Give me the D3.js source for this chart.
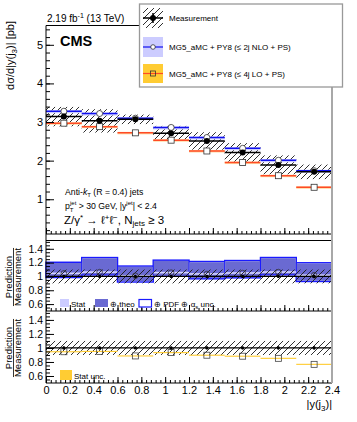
<!DOCTYPE html>
<html>
<head>
<meta charset="utf-8">
<script src="https://cdn.jsdelivr.net/npm/d3@7"></script>
<style>
  body { margin: 0; background: #fff; }
  svg { display: block; font-family: "Liberation Sans", Arial, sans-serif; }
</style>
</head>
<body>
<div class="chart"></div>
<script>
// bins of |y(j3)|
var binEdges = [0, 0.3, 0.6, 0.9, 1.2, 1.5, 1.8, 2.1, 2.4];
// measurement [pb], stat error and total relative uncertainty (hatched)
var measured = [3.14, 3.03, 3.07, 2.71, 2.51, 2.21, 1.89, 1.71];
var measStat = [0.06, 0.06, 0.05, 0.05, 0.05, 0.04, 0.04, 0.04];
var measUncMain = [0.08, 0.10, 0.04, 0.07, 0.09, 0.11, 0.13, 0.11];
var measUncRatio = [0.10, 0.10, 0.10, 0.10, 0.10, 0.10, 0.10, 0.10];
// predictions [pb]
var nloPred = [3.28, 3.22, 3.10, 2.86, 2.60, 2.32, 2.01, 1.74];
var loPred = [2.97, 2.88, 2.72, 2.53, 2.25, 1.95, 1.61, 1.31];
// NLO / measurement uncertainty boxes (theo and theo+PDF+alpha_s)
var nloTheoLo = [0.95, 0.97, 0.92, 0.96, 0.94, 0.94, 0.97, 0.92];
var nloTheoHi = [1.15, 1.20, 1.13, 1.17, 1.17, 1.17, 1.20, 1.17];
var nloTotLo = [0.94, 0.96, 0.91, 0.95, 0.93, 0.93, 0.96, 0.91];
var nloTotHi = [1.16, 1.21, 1.14, 1.18, 1.18, 1.18, 1.21, 1.18];
// tick labels
var xTicks = [0, 0.2, 0.4, 0.6, 0.8, 1, 1.2, 1.4, 1.6, 1.8, 2, 2.2, 2.4];
var mainYTicks = [1, 2, 3, 4, 5];
var ratioYTicks = [0.6, 0.8, 1, 1.2, 1.4];

var bins = measured.map(function (m, i) {
  return {
    lo: binEdges[i], hi: binEdges[i + 1], mid: (binEdges[i] + binEdges[i + 1]) / 2,
    meas: m, stat: measStat[i], uMain: measUncMain[i], uRatio: measUncRatio[i],
    nlo: nloPred[i], lo_: loPred[i],
    tLo: nloTheoLo[i], tHi: nloTheoHi[i], pLo: nloTotLo[i], pHi: nloTotHi[i]
  };
});

var W = 357, H = 422;
var svg = d3.select(".chart").append("svg").attr("width", W).attr("height", H);

// hatch pattern for measurement uncertainty
var defs = svg.append("defs");
var pat = defs.append("pattern").attr("id", "hatch").attr("patternUnits", "userSpaceOnUse")
  .attr("width", 6).attr("height", 6);
pat.append("path").attr("d", "M0,6 L6,0 M-1.5,1.5 L1.5,-1.5 M4.5,7.5 L7.5,4.5")
  .attr("stroke", "#1a1a1a").attr("stroke-width", 0.9);

var x = d3.scaleLinear().domain([0, 2.4]).range([46, 332]);
var yMain = d3.scaleLinear().domain([0.1, 5.5]).range([234, 25.5]);
var yR1 = d3.scaleLinear().domain([0.5, 1.52]).range([311, 240.5]);
var yR2 = d3.scaleLinear().domain([0.5, 1.52]).range([383, 311.5]);

var fmt = function (d) { return String(+d.toFixed(1)); };

// ---------- main panel ----------
var main = svg.append("g");

main.selectAll(".hatchM").data(bins).enter().append("rect")
  .attr("x", d => x(d.lo)).attr("width", d => x(d.hi) - x(d.lo))
  .attr("y", d => yMain(d.meas * (1 + d.uMain)))
  .attr("height", d => yMain(d.meas * (1 - d.uMain)) - yMain(d.meas * (1 + d.uMain)))
  .attr("fill", "url(#hatch)");

// LO (orange) with light band
main.selectAll(".loBand").data(bins).enter().append("rect")
  .attr("x", d => x(d.lo)).attr("width", d => x(d.hi) - x(d.lo))
  .attr("y", d => yMain(d.lo_) - 1).attr("height", 2.5)
  .attr("fill", "#ffd9a0");
main.selectAll(".loLine").data(bins).enter().append("line")
  .attr("x1", d => x(d.lo)).attr("x2", d => x(d.hi))
  .attr("y1", d => yMain(d.lo_)).attr("y2", d => yMain(d.lo_))
  .attr("stroke", "#ff4a26").attr("stroke-width", 1.5);

// NLO (blue) with lavender band
main.selectAll(".nloBand").data(bins).enter().append("rect")
  .attr("x", d => x(d.lo)).attr("width", d => x(d.hi) - x(d.lo))
  .attr("y", d => yMain(d.nlo) - 1).attr("height", 3)
  .attr("fill", "#ccccff");
main.selectAll(".nloLine").data(bins).enter().append("line")
  .attr("x1", d => x(d.lo)).attr("x2", d => x(d.hi))
  .attr("y1", d => yMain(d.nlo)).attr("y2", d => yMain(d.nlo))
  .attr("stroke", "#1010ee").attr("stroke-width", 1.5);

// measurement line
main.selectAll(".measLine").data(bins).enter().append("line")
  .attr("x1", d => x(d.lo)).attr("x2", d => x(d.hi))
  .attr("y1", d => yMain(d.meas)).attr("y2", d => yMain(d.meas))
  .attr("stroke", "#000").attr("stroke-width", 1.5);

// markers
main.selectAll(".loMk").data(bins).enter().append("rect")
  .attr("x", d => x(d.mid) - 3).attr("y", d => yMain(d.lo_) - 3)
  .attr("width", 6).attr("height", 6)
  .attr("fill", "#fff").attr("stroke", "#333").attr("stroke-width", 0.8);
main.selectAll(".nloMk").data(bins).enter().append("circle")
  .attr("cx", d => x(d.mid)).attr("cy", d => yMain(d.nlo)).attr("r", 3)
  .attr("fill", "#fff").attr("stroke", "#333").attr("stroke-width", 0.8);
main.selectAll(".measErr").data(bins).enter().append("line")
  .attr("x1", d => x(d.mid)).attr("x2", d => x(d.mid))
  .attr("y1", d => yMain(d.meas + d.stat)).attr("y2", d => yMain(d.meas - d.stat))
  .attr("stroke", "#000").attr("stroke-width", 1.5);
main.selectAll(".measMk").data(bins).enter().append("circle")
  .attr("cx", d => x(d.mid)).attr("cy", d => yMain(d.meas)).attr("r", 3)
  .attr("fill", "#000");

// ---------- ratio panel 1 : NLO / measurement ----------
var r1 = svg.append("g");
r1.selectAll(".totBox").data(bins).enter().append("rect")
  .attr("x", d => x(d.lo)).attr("width", d => x(d.hi) - x(d.lo))
  .attr("y", d => yR1(d.nlo / d.meas + d.pHi - 1))
  .attr("height", d => yR1(d.nlo / d.meas + d.pLo - 1) - yR1(d.nlo / d.meas + d.pHi - 1))
  .attr("fill", "#fff").attr("stroke", "#1a1aff").attr("stroke-width", 1.5);
r1.selectAll(".theoBox").data(bins).enter().append("rect")
  .attr("x", d => x(d.lo) + 0.5).attr("width", d => x(d.hi) - x(d.lo) - 1)
  .attr("y", d => yR1(d.nlo / d.meas + d.tHi - 1))
  .attr("height", d => yR1(d.nlo / d.meas + d.tLo - 1) - yR1(d.nlo / d.meas + d.tHi - 1))
  .attr("fill", "#6a6ad2");
r1.selectAll(".statBand").data(bins).enter().append("rect")
  .attr("x", d => x(d.lo)).attr("width", d => x(d.hi) - x(d.lo))
  .attr("y", d => yR1(d.nlo / d.meas + 0.012))
  .attr("height", d => yR1(d.nlo / d.meas - 0.012) - yR1(d.nlo / d.meas + 0.012))
  .attr("fill", "#d4d4ff");
r1.selectAll(".hatchR1").data(bins).enter().append("rect")
  .attr("x", d => x(d.lo)).attr("width", d => x(d.hi) - x(d.lo))
  .attr("y", d => yR1(1 + d.uRatio)).attr("height", d => yR1(1 - d.uRatio) - yR1(1 + d.uRatio))
  .attr("fill", "url(#hatch)");
r1.append("line").attr("x1", x(0)).attr("x2", x(2.4)).attr("y1", yR1(1)).attr("y2", yR1(1))
  .attr("stroke", "#000").attr("stroke-width", 1.2);
r1.selectAll(".mkR1").data(bins).enter().append("circle")
  .attr("cx", d => x(d.mid)).attr("cy", d => yR1(d.nlo / d.meas)).attr("r", 2.8)
  .attr("fill", "none").attr("stroke", "#333").attr("stroke-width", 0.8);

// ---------- ratio panel 2 : LO / measurement ----------
var r2 = svg.append("g");
r2.selectAll(".hatchR2").data(bins).enter().append("rect")
  .attr("x", d => x(d.lo)).attr("width", d => x(d.hi) - x(d.lo))
  .attr("y", d => yR2(1 + d.uRatio)).attr("height", d => yR2(1 - d.uRatio) - yR2(1 + d.uRatio))
  .attr("fill", "url(#hatch)");
r2.selectAll(".loStat").data(bins).enter().append("rect")
  .attr("x", d => x(d.lo)).attr("width", d => x(d.hi) - x(d.lo))
  .attr("y", d => yR2(d.lo_ / d.meas + 0.008))
  .attr("height", d => yR2(d.lo_ / d.meas - 0.008) - yR2(d.lo_ / d.meas + 0.008))
  .attr("fill", "#ffcc33");
r2.append("line").attr("x1", x(0)).attr("x2", x(2.4)).attr("y1", yR2(1)).attr("y2", yR2(1))
  .attr("stroke", "#000").attr("stroke-width", 1.2);
r2.selectAll(".mkR2").data(bins).enter().append("rect")
  .attr("x", d => x(d.mid) - 3).attr("y", d => yR2(d.lo_ / d.meas) - 3)
  .attr("width", 6).attr("height", 6)
  .attr("fill", "none").attr("stroke", "#444").attr("stroke-width", 0.8);

// measurement points at 1 in both ratio panels
[[r1, yR1], [r2, yR2]].forEach(function (p) {
  var g = p[0], ys = p[1];
  g.selectAll(".mErr").data(bins).enter().append("line")
    .attr("x1", d => x(d.mid)).attr("x2", d => x(d.mid))
    .attr("y1", d => ys(1 + d.stat / d.meas)).attr("y2", d => ys(1 - d.stat / d.meas))
    .attr("stroke", "#000").attr("stroke-width", 1.2);
  g.selectAll(".mDot").data(bins).enter().append("circle")
    .attr("cx", d => x(d.mid)).attr("cy", ys(1)).attr("r", 1.6).attr("fill", "#000");
});

// ---------- axes ----------
function yAxes(scale, major, minorStep, lo, hi, fs) {
  var minor = d3.range(lo, hi + 1e-9, minorStep);
  svg.append("g").attr("transform", "translate(46,0)")
    .call(d3.axisLeft(scale).tickValues(minor).tickSize(-4).tickFormat(""))
    .call(g => g.select(".domain").remove());
  var g = svg.append("g").attr("transform", "translate(46,0)")
    .call(d3.axisLeft(scale).tickValues(major).tickSize(-8).tickPadding(3).tickFormat(fmt));
  g.select(".domain").remove();
  g.selectAll("text").attr("font-size", fs).attr("font-family", "Liberation Sans, Arial, sans-serif").attr("fill", "#000");
}
yAxes(yMain, mainYTicks, 0.2, 0.2, 5.4, "11px");
yAxes(yR1, ratioYTicks, 0.05, 0.55, 1.5, "10.5px");
yAxes(yR2, ratioYTicks, 0.05, 0.55, 1.5, "10.5px");

function xAxis(yPos, withLabels) {
  svg.append("g").attr("transform", "translate(0," + yPos + ")")
    .call(d3.axisBottom(x).tickValues(d3.range(0, 2.4001, 0.04)).tickSize(-3).tickFormat(""))
    .call(g => g.select(".domain").remove());
  var g = svg.append("g").attr("transform", "translate(0," + yPos + ")")
    .call(d3.axisBottom(x).tickValues(xTicks).tickSize(-6).tickPadding(3)
      .tickFormat(withLabels ? fmt : ""));
  g.select(".domain").remove();
  g.selectAll("text").attr("font-size", "11px").attr("font-family", "Liberation Sans, Arial, sans-serif").attr("fill", "#000");
}
xAxis(234, false);
xAxis(311, false);
xAxis(383, true);

// frames
var frame = svg.append("g").attr("stroke", "#000").attr("stroke-width", 1);
frame.append("line").attr("x1", 46).attr("x2", 46).attr("y1", 25.5).attr("y2", 383);
frame.append("line").attr("x1", 46).attr("x2", 332).attr("y1", 25.5).attr("y2", 25.5);
frame.append("line").attr("x1", 46).attr("x2", 332).attr("y1", 234).attr("y2", 234);
frame.append("line").attr("x1", 46).attr("x2", 332).attr("y1", 240.5).attr("y2", 240.5);
frame.append("line").attr("x1", 46).attr("x2", 332).attr("y1", 311).attr("y2", 311);
frame.append("line").attr("x1", 46).attr("x2", 332).attr("y1", 383).attr("y2", 383);
svg.append("line").attr("x1", 332).attr("x2", 332).attr("y1", 25.5).attr("y2", 383)
  .attr("stroke", "#a8a8a8").attr("stroke-width", 2);

// ---------- texts ----------
var t = svg.append("text").attr("x", 47).attr("y", 22).attr("font-size", "10px");
t.append("tspan").text("2.19 fb");
t.append("tspan").attr("dy", -4).attr("font-size", "7px").text("-1");
t.append("tspan").attr("dy", 4).text(" (13 TeV)");

svg.append("text").attr("x", 60).attr("y", 46).attr("font-size", "14.5px")
  .attr("font-weight", "bold").text("CMS");

var yl = svg.append("text").attr("transform", "translate(14,21) rotate(-90)")
  .attr("text-anchor", "end").attr("font-size", "11px");
yl.append("tspan").text("d\u03c3/d|y(j");
yl.append("tspan").attr("dy", 3).attr("font-size", "8px").text("3");
yl.append("tspan").attr("dy", -3).text(")|  [pb]");

// annotation
var a1 = svg.append("text").attr("x", 65).attr("y", 195).attr("font-size", "8.7px");
a1.append("tspan").text("Anti-");
a1.append("tspan").attr("font-style", "italic").text("k");
a1.append("tspan").attr("dy", 2).attr("font-size", "6px").text("T");
a1.append("tspan").attr("dy", -2).text(" (R = 0.4) jets");

var a2 = svg.append("text").attr("x", 65).attr("y", 209).attr("font-size", "8.7px");
a2.append("tspan").text("p");
a2.append("tspan").attr("dy", 2.5).attr("font-size", "6px").text("T");
a2.append("tspan").attr("dy", -7).attr("dx", -3.5).attr("font-size", "6px").text("jet");
a2.append("tspan").attr("dy", 4.5).text(" > 30 GeV, |y");
a2.append("tspan").attr("dy", -4).attr("font-size", "6px").text("jet");
a2.append("tspan").attr("dy", 4).text("| < 2.4");

var a3 = svg.append("text").attr("x", 64).attr("y", 223.5).attr("font-size", "11.5px");
a3.append("tspan").text("Z/\u03b3");
a3.append("tspan").attr("dy", -4).attr("font-size", "8px").text("*");
a3.append("tspan").attr("dy", 4).text(" \u2192 \u2113");
a3.append("tspan").attr("dy", -4).attr("font-size", "8px").text("+");
a3.append("tspan").attr("dy", 4).text("\u2113");
a3.append("tspan").attr("dy", -4).attr("font-size", "8px").text("\u2212");
a3.append("tspan").attr("dy", 4).text(", N");
a3.append("tspan").attr("dy", 2.5).attr("font-size", "8px").text("jets");
a3.append("tspan").attr("dy", -2.5).text(" \u2265 3");

// ratio y titles
function ratioTitle(cy) {
  svg.append("text").attr("transform", "translate(12," + cy + ") rotate(-90)")
    .attr("text-anchor", "middle").attr("font-size", "9.5px").text("Prediction");
  var m = svg.append("text").attr("transform", "translate(21," + cy + ") rotate(-90)")
    .attr("text-anchor", "middle").attr("font-size", "9.5px").text("Measurement");
  var len = m.node().getComputedTextLength();
  svg.append("line").attr("x1", 13.5).attr("x2", 13.5)
    .attr("y1", cy - len / 2).attr("y2", cy + len / 2)
    .attr("stroke", "#000").attr("stroke-width", 0.8);
}
ratioTitle(277);
ratioTitle(348);

// ratio legends
var rl = svg.append("g").attr("font-size", "8px");
rl.append("rect").attr("x", 60).attr("y", 299).attr("width", 9).attr("height", 8).attr("fill", "#ccccff");
rl.append("text").attr("x", 71).attr("y", 306.5).text("Stat");
rl.append("rect").attr("x", 95).attr("y", 299).attr("width", 13).attr("height", 8).attr("fill", "#6a6ad2");
rl.append("text").attr("x", 110).attr("y", 306.5).text("\u2295 theo");
rl.append("rect").attr("x", 139).attr("y", 299.5).attr("width", 12.5).attr("height", 7.5)
  .attr("fill", "#fff").attr("stroke", "#1a1aff").attr("stroke-width", 1.2);
var pdf = rl.append("text").attr("x", 154).attr("y", 306.5);
pdf.append("tspan").text("\u2295 PDF \u2295 \u03b1");
pdf.append("tspan").attr("dy", 2).attr("font-size", "6px").text("s");
pdf.append("tspan").attr("dy", -2).text(" unc.");

rl.append("rect").attr("x", 60).attr("y", 370).attr("width", 12).attr("height", 10).attr("fill", "#ffcc33");
rl.append("text").attr("x", 74).attr("y", 378.5).text("Stat unc.");

// x title
var xl = svg.append("text").attr("x", 332).attr("y", 408).attr("text-anchor", "end").attr("font-size", "11px");
xl.append("tspan").text("|y(j");
xl.append("tspan").attr("dy", 3).attr("font-size", "8px").text("3");
xl.append("tspan").attr("dy", -3).text(")|");

// ---------- legend ----------
var lg = svg.append("g");
lg.append("rect").attr("x", 139.5).attr("y", 4).attr("width", 203).attr("height", 83)
  .attr("fill", "#fff").attr("stroke", "#999").attr("stroke-width", 1.3);
// measurement entry
lg.append("rect").attr("x", 143).attr("y", 8).attr("width", 20).attr("height", 20).attr("fill", "url(#hatch)");
lg.append("line").attr("x1", 143).attr("x2", 163).attr("y1", 18).attr("y2", 18).attr("stroke", "#000").attr("stroke-width", 1.5);
lg.append("line").attr("x1", 153).attr("x2", 153).attr("y1", 13).attr("y2", 23).attr("stroke", "#000").attr("stroke-width", 1.5);
lg.append("circle").attr("cx", 153).attr("cy", 18).attr("r", 3).attr("fill", "#000");
// NLO entry
lg.append("rect").attr("x", 143).attr("y", 37).attr("width", 20).attr("height", 20).attr("fill", "#ccccff");
lg.append("line").attr("x1", 143).attr("x2", 163).attr("y1", 47).attr("y2", 47).attr("stroke", "#1010ee").attr("stroke-width", 1.2);
lg.append("circle").attr("cx", 153).attr("cy", 47).attr("r", 2.3).attr("fill", "#fff").attr("stroke", "#333").attr("stroke-width", 0.8);
// LO entry
lg.append("rect").attr("x", 143).attr("y", 64).attr("width", 20).attr("height", 19).attr("fill", "#ffcc33");
lg.append("line").attr("x1", 143).attr("x2", 163).attr("y1", 73.5).attr("y2", 73.5).attr("stroke", "#ff4a26").attr("stroke-width", 1.2);
lg.append("rect").attr("x", 150.5).attr("y", 71).attr("width", 5).attr("height", 5).attr("fill", "none").attr("stroke", "#333").attr("stroke-width", 0.8);

var legendLabels = ["Measurement", "MG5_aMC + PY8 (\u2264 2j NLO + PS)", "MG5_aMC + PY8 (\u2264 4j LO + PS)"];
var legendY = [21, 50, 76.5];
lg.selectAll(".lgt").data(legendLabels).enter().append("text")
  .attr("x", 169).attr("y", (d, i) => legendY[i]).attr("font-size", "8px").text(d => d);
</script>
</body>
</html>
